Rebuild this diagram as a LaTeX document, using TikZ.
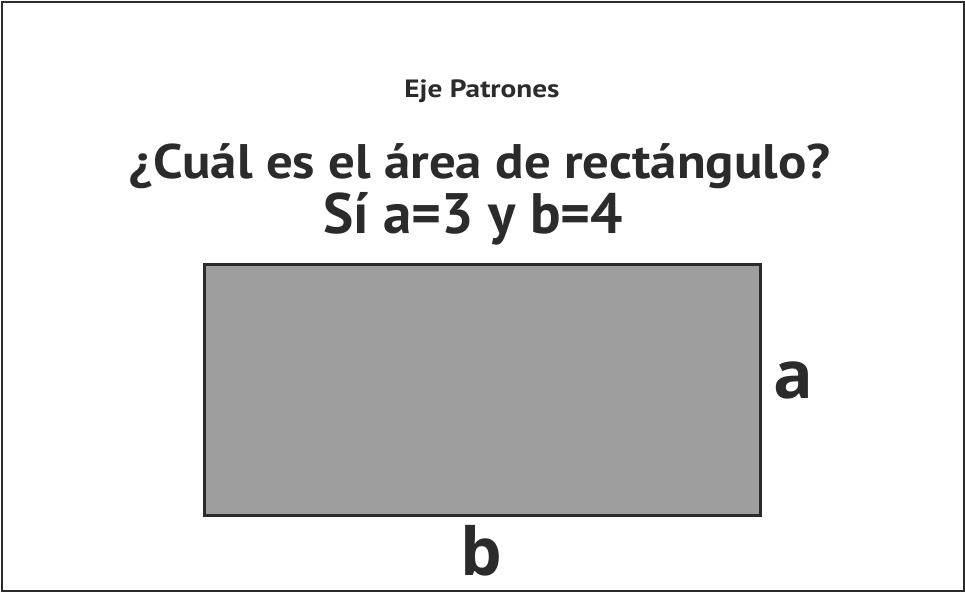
\documentclass[tikz,border=0pt]{standalone}
\usepackage{fontspec}
\setmainfont{PT Sans}
\newfontfamily\labfont{Open Sans}
\definecolor{ink}{HTML}{2B2B2B}
\definecolor{boxfill}{HTML}{9D9E9D}
\begin{document}
\begin{tikzpicture}[x=1pt,y=-1pt,
  ttl/.style={text=ink,inner sep=0pt,anchor=base},
  lab/.style={text=ink,font=\labfont\bfseries\fontsize{66}{66}\selectfont,inner sep=0pt,anchor=base}]
\useasboundingbox (0,0) rectangle (965,592);
\draw[ink,line width=2pt,fill=white] (1.5,1.5) rectangle (963.5,590.5);
\node[ttl,font=\bfseries\fontsize{25}{25}\selectfont] (t0) at (482,97) {\scalebox{1.17}[1]{Eje Patrones}};
\node[ttl,font=\bfseries\fontsize{48.5}{48.5}\selectfont] (t1) at (480,178) {\scalebox{1.09}[1]{¿Cuál es el área de rectángulo?}};
\node[ttl,font=\bfseries\fontsize{57}{57}\selectfont] (t2) at (473.5,233) {Sí a=3 y b=4};
\node[draw=ink,line width=3pt,fill=boxfill,minimum width=556pt,minimum height=251pt,inner sep=0pt] (r) at (482.5,390) {};
\node[lab] (a) at (793,398) {a};
\node[lab] (b) at (481.5,575) {b};
\end{tikzpicture}
\end{document}
